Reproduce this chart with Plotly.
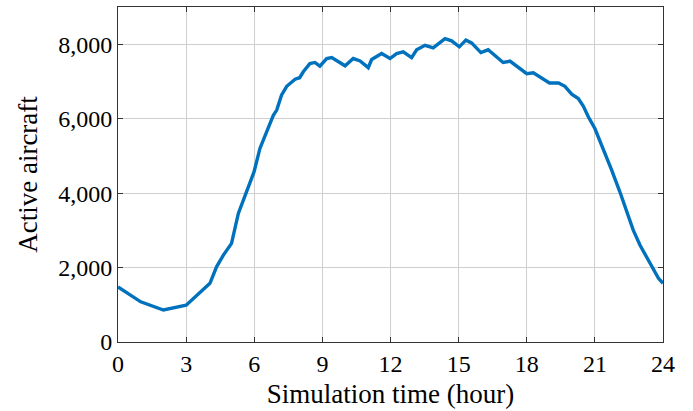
import plotly.graph_objects as go

hours = [0, 1.0, 2.0, 3.0, 4.05, 4.34, 4.64, 5.0, 5.3, 5.67, 5.99, 6.25, 6.62, 6.84, 6.99,
         7.2, 7.43, 7.8, 8.0, 8.16, 8.45, 8.67, 8.89, 9.19, 9.41, 9.7, 10.0, 10.36, 10.66,
         11.02, 11.17, 11.61, 11.98, 12.27, 12.56, 12.93, 13.15, 13.52, 13.88, 14.4, 14.69,
         15.03, 15.32, 15.57, 15.98, 16.3, 16.6, 16.96, 17.26, 17.63, 18.0, 18.29, 18.66,
         19.0, 19.4, 19.68, 19.98, 20.27, 20.49, 20.71, 21.0, 21.37, 21.74, 22.1, 22.4,
         22.69, 22.99, 23.28, 23.58, 23.8, 24.0]
aircraft = [1480, 1080, 860, 990, 1575, 2020, 2335, 2650, 3455, 4080, 4570, 5200, 5780, 6090, 6230,
            6630, 6870, 7060, 7100, 7260, 7480, 7510, 7410, 7615, 7640, 7525, 7420, 7615, 7550,
            7370, 7590, 7750, 7615, 7750, 7795, 7640, 7850, 7970, 7900, 8150, 8090,
            7930, 8110, 8035, 7775, 7850, 7700, 7510, 7545, 7390, 7210, 7230, 7100,
            6960, 6960, 6870, 6660, 6540, 6340, 6050, 5735, 5200, 4620, 4035, 3500,
            3005, 2600, 2290, 1980, 1710, 1575]

x_ticks = [0, 3, 6, 9, 12, 15, 18, 21, 24]
y_ticks = [0, 2000, 4000, 6000, 8000]

font = "Liberation Serif"
fig = go.Figure(go.Scatter(x=hours, y=aircraft, mode="lines",
                           line=dict(color="#0072BD", width=3.4), showlegend=False))

axis_common = dict(showline=True, linecolor="#333333", linewidth=1, mirror="allticks",
                   ticks="inside", ticklen=5, tickcolor="#333333",
                   showgrid=True, gridcolor="#cfcfcf", gridwidth=1, zeroline=False,
                   tickfont=dict(family=font, size=24, color="black"))
fig.update_xaxes(range=[0, 24], tickvals=x_ticks, **axis_common,
                 title=dict(text="Simulation time (hour)", font=dict(family=font, size=27, color="black"),
                            standoff=8))
fig.update_yaxes(range=[0, 9000], tickvals=y_ticks, tickformat=",d", **axis_common,
                 title=dict(text="Active aircraft", font=dict(family=font, size=27, color="black"),
                            standoff=12))
fig.update_layout(width=693, height=411, margin=dict(l=118, r=30, t=7, b=69),
                  plot_bgcolor="white", paper_bgcolor="white")
fig.write_html("out.html")
